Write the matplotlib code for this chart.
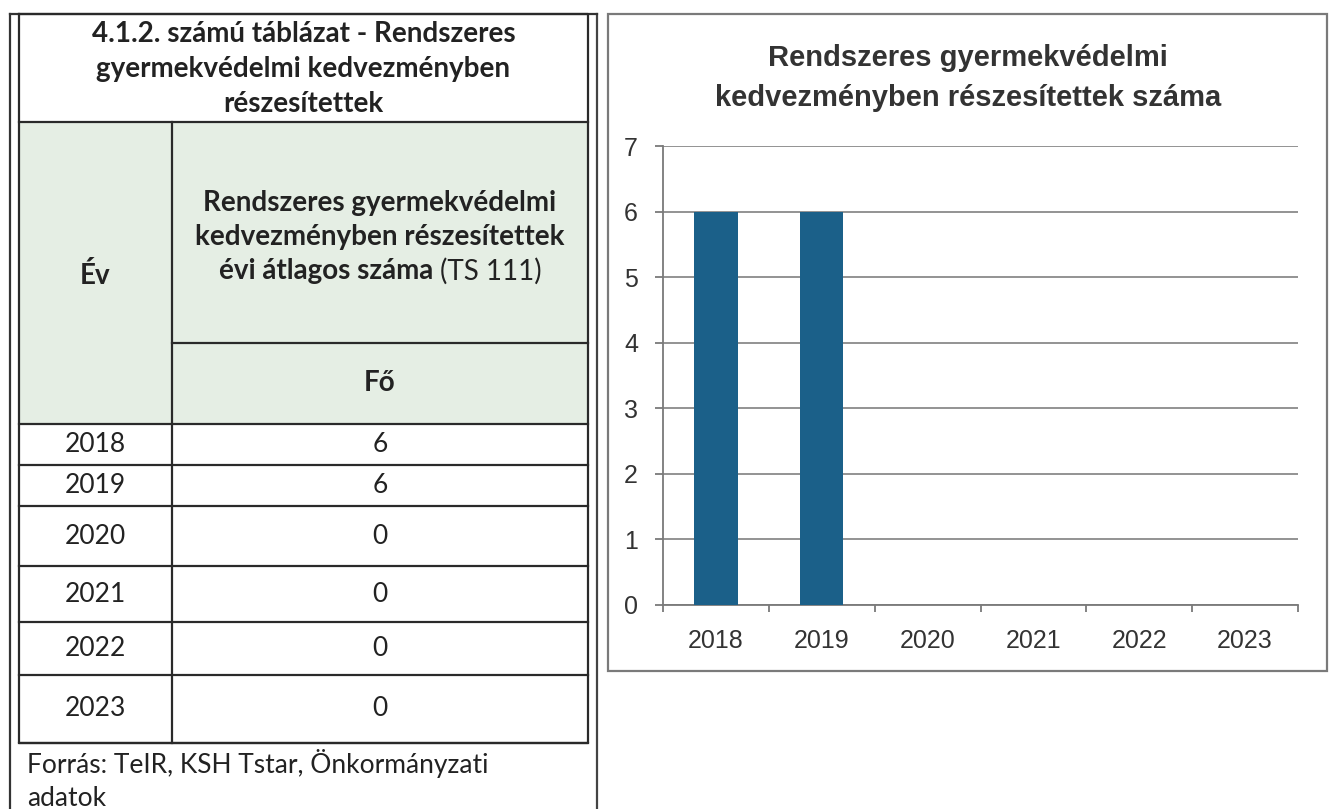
import matplotlib.pyplot as plt
from matplotlib.patches import Rectangle

# data
years = ['2018', '2019', '2020', '2021', '2022', '2023']
values = [6, 6, 0, 0, 0, 0]

table_title = ['4.1.2. számú táblázat - Rendszeres', 'gyermekvédelmi kedvezményben', 'részesítettek']
col1_head = 'Év'
col2_head = ['Rendszeres gyermekvédelmi', 'kedvezményben részesítettek']
col2_last_bold = 'évi átlagos száma '
col2_last_reg = '(TS 111)'
unit_head = 'Fő'
source_lines = ['Forrás: TeIR, KSH Tstar, Önkormányzati', 'adatok']
chart_title = ['Rendszeres gyermekvédelmi', 'kedvezményben részesítettek száma']

W, H = 1332, 809
TFONT = 'Lato'
CFONT = 'Liberation Sans'
INK = '#222222'
HEAD = 20
BODY = 19

fig = plt.figure(figsize=(W / 100, H / 100), dpi=100)
bg = fig.add_axes([0, 0, 1, 1])
bg.set_xlim(0, W)
bg.set_ylim(H, 0)
bg.axis('off')

# page frame lines
bg.plot([10, 10], [14, H], color='#333333', lw=1.6)
bg.plot([597, 597], [14, H], color='#444444', lw=1.6)
bg.plot([10, 597], [14, 14], color='#333333', lw=1.6)

# table geometry
tl, tr, tc = 19, 588, 172
row_edges = [424, 465, 506, 566, 622, 675, 743]

bg.add_patch(Rectangle((tl, 122), tr - tl, 424 - 122, facecolor='#e5eee4', edgecolor='none'))
bg.plot([tl, tr, tr, tl, tl], [14, 14, 743, 743, 14], color='#2a2a2a', lw=1.6)
bg.plot([tl, tr], [122, 122], color='#2a2a2a', lw=1.6)
bg.plot([tc, tc], [122, 743], color='#2a2a2a', lw=1.6)
bg.plot([tc, tr], [343, 343], color='#2a2a2a', lw=1.6)
for y in row_edges:
    bg.plot([tl, tr], [y, y], color='#2a2a2a', lw=1.6)

hx = (tl + tr) / 2
for i, line in enumerate(table_title):
    bg.text(hx, 34 + 35 * i, line, ha='center', va='center', fontsize=HEAD,
            fontweight='bold', family=TFONT, color=INK)
bg.text((tl + tc) / 2, 276, col1_head, ha='center', va='center', fontsize=HEAD,
        fontweight='bold', family=TFONT, color=INK)
cx = (tc + tr) / 2
for i, line in enumerate(col2_head):
    bg.text(cx, 203 + 34 * i, line, ha='center', va='center', fontsize=HEAD,
            fontweight='bold', family=TFONT, color=INK)

# last header line: bold part + regular part, centred together
renderer = fig.canvas.get_renderer()
tb = bg.text(0, 271, col2_last_bold, ha='left', va='center', fontsize=HEAD,
             fontweight='bold', family=TFONT, color=INK)
trg = bg.text(0, 271, col2_last_reg, ha='left', va='center', fontsize=HEAD,
              family=TFONT, color=INK)
wb = tb.get_window_extent(renderer).width
wr = trg.get_window_extent(renderer).width
x0 = cx - (wb + wr) / 2
tb.set_x(x0)
trg.set_x(x0 + wb)

bg.text(cx, 383, unit_head, ha='center', va='center', fontsize=HEAD, fontweight='bold',
        family=TFONT, color=INK)

for i, (yr, v) in enumerate(zip(years, values)):
    yc = (row_edges[i] + row_edges[i + 1]) / 2
    bg.text((tl + tc) / 2, yc, yr, ha='center', va='center', fontsize=BODY,
            family=TFONT, color=INK)
    bg.text(cx, yc, str(v), ha='center', va='center', fontsize=BODY,
            family=TFONT, color=INK)

bg.text(27, 764, source_lines[0], ha='left', va='center', fontsize=BODY, family=TFONT, color=INK)
bg.text(27, 798, source_lines[1], ha='left', va='center', fontsize=BODY, family=TFONT, color=INK)

# chart frame
bg.add_patch(Rectangle((608, 14), 1327 - 608, 671 - 14, facecolor='none',
                       edgecolor='#7a7a7a', lw=1.6))
for i, line in enumerate(chart_title):
    bg.text(968, 58 + 40 * i, line, ha='center', va='center', fontsize=21,
            fontweight='bold', family=CFONT, color='#333333')

# bar chart
ax_l, ax_r, ax_top, ax_bot = 663, 1298, 146, 605
ax = fig.add_axes([ax_l / W, 1 - ax_bot / H, (ax_r - ax_l) / W, (ax_bot - ax_top) / H])
ax.patch.set_alpha(0)
x = list(range(len(years)))
ax.bar(x, values, width=0.41, color='#1b6089', zorder=3)
ax.set_xlim(-0.5, len(years) - 0.5)
ax.set_ylim(0, 7)
ax.set_yticks(range(8))
ax.yaxis.grid(True, color='#8a8a8a', lw=1.3)
ax.set_axisbelow(True)
ax.set_xticks(x, labels=years)
ax.set_xticks([i - 0.5 for i in range(len(years) + 1)], minor=True)
for s in ['top', 'right']:
    ax.spines[s].set_visible(False)
for s in ['left', 'bottom']:
    ax.spines[s].set_color('#7a7a7a')
    ax.spines[s].set_linewidth(1.3)
ax.tick_params(axis='x', which='major', length=0, pad=17, labelsize=18, labelcolor='#333333')
ax.tick_params(axis='x', which='minor', length=5, width=1.3, color='#7a7a7a')
ax.tick_params(axis='y', length=6, width=1.3, color='#7a7a7a', pad=12,
               labelsize=18, labelcolor='#333333')
for lab in ax.get_xticklabels() + ax.get_yticklabels():
    lab.set_family(CFONT)

fig.savefig('out.png', dpi=100)
